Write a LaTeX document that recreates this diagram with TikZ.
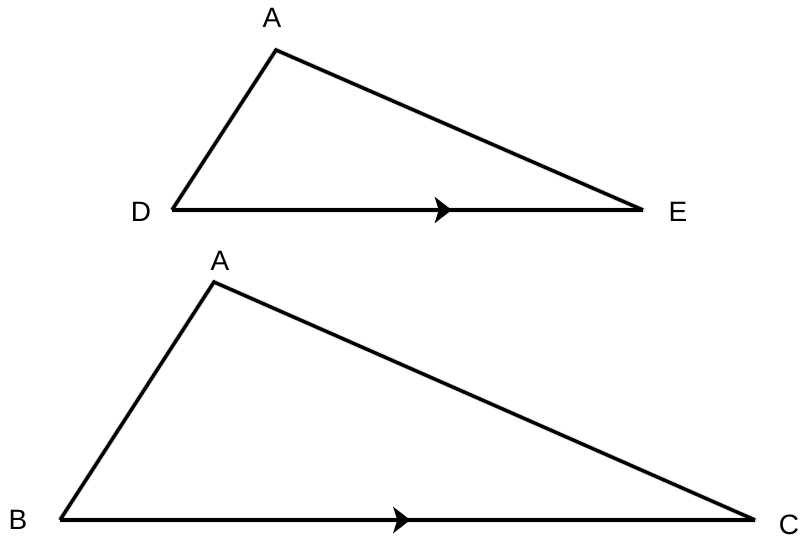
\documentclass[tikz,border=0pt]{standalone}
\usepackage{fontspec}
\setmainfont{Liberation Sans}
\usetikzlibrary{arrows.meta,decorations.markings}
\tikzset{
  edge/.style={black, line width=2.6pt},
  shade/.style={black!12, line width=4pt, line join=round, shift={(2,4)}},
  vlabel/.style={inner sep=0pt, font=\fontsize{21}{21}\selectfont},
  midarrow/.style={postaction={decorate}, decoration={markings,
    mark=at position #1 with {\arrow{Stealth[length=12.75pt,width=19.5pt,inset=3pt]}}}}
}
\begin{document}
\begin{tikzpicture}[x=0.75pt,y=-0.75pt]
\useasboundingbox (0,0) rectangle (803,539);
% upper triangle
\coordinate (A1) at (276,50);
\coordinate (D) at (172,210);
\coordinate (E) at (643,210);
\draw [shade] (D) -- (A1) -- (E) -- (D);
\draw [edge] (D) -- (A1) -- (E);
\draw [edge, midarrow=0.594] (D) -- (E);
\node [vlabel] (la1) at (272,18) {A};
\node [vlabel] (ld) at (141,212) {D};
\node [vlabel] (le) at (678,212) {E};
% lower triangle
\coordinate (A2) at (214,282);
\coordinate (B) at (60,520);
\coordinate (C) at (755,520);
\draw [shade] (B) -- (A2) -- (C) -- (B);
\draw [edge] (B) -- (A2) -- (C);
\draw [edge, midarrow=0.504] (B) -- (C);
\node [vlabel] (la2) at (220,261) {A};
\node [vlabel] (lb) at (18,520) {B};
\node [vlabel] (lc) at (789,525) {C};
\end{tikzpicture}
\end{document}
